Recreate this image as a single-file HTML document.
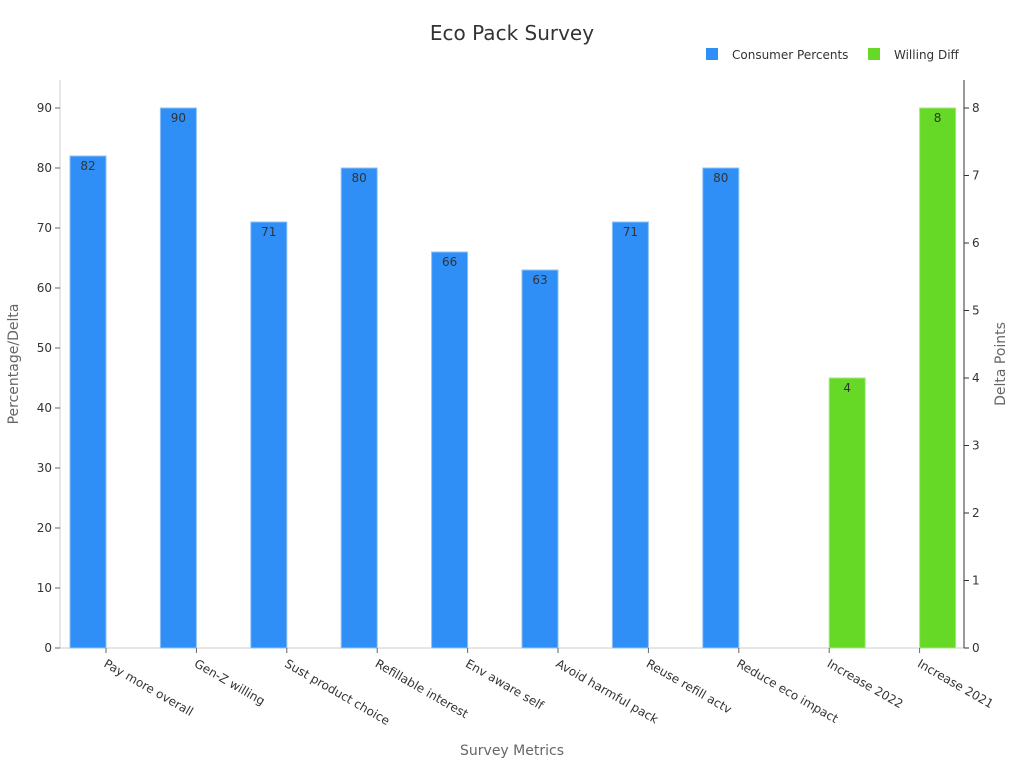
<!DOCTYPE html>
<html><head><meta charset="utf-8"><style>body{margin:0;background:#fff}svg{display:block;font-family:"DejaVu Sans","Liberation Sans",sans-serif}</style></head>
<body>
<svg width="1024" height="768" viewBox="0 0 1024 768">
<text x="512" y="40" text-anchor="middle" font-size="20" fill="#333">Eco Pack Survey</text>
<rect x="706" y="48" width="12" height="12" fill="#2f8ff7"/>
<text x="732" y="59" font-size="12" fill="#333">Consumer Percents</text>
<rect x="868" y="48" width="12" height="12" fill="#66d927"/>
<text x="894" y="59" font-size="12" fill="#333">Willing Diff</text>
<g font-size="12" fill="#333" text-anchor="end">
<line x1="60" y1="80" x2="60" y2="648" stroke="#ccc"/>
<line x1="60" y1="648" x2="964" y2="648" stroke="#ccc"/>
<g stroke="#666"><line x1="55" y1="648" x2="60" y2="648"/><line x1="55" y1="588" x2="60" y2="588"/><line x1="55" y1="528" x2="60" y2="528"/><line x1="55" y1="468" x2="60" y2="468"/><line x1="55" y1="408" x2="60" y2="408"/><line x1="55" y1="348" x2="60" y2="348"/><line x1="55" y1="288" x2="60" y2="288"/><line x1="55" y1="228" x2="60" y2="228"/><line x1="55" y1="168" x2="60" y2="168"/><line x1="55" y1="108" x2="60" y2="108"/></g>
<text x="52" y="652">0</text><text x="52" y="592">10</text><text x="52" y="532">20</text><text x="52" y="472">30</text><text x="52" y="412">40</text><text x="52" y="352">50</text><text x="52" y="292">60</text><text x="52" y="232">70</text><text x="52" y="172">80</text><text x="52" y="112">90</text>
</g>
<g font-size="12" fill="#333">
<line x1="964" y1="80" x2="964" y2="648" stroke="#333"/>
<g stroke="#333"><line x1="964" y1="648" x2="969" y2="648"/><line x1="964" y1="580.5" x2="969" y2="580.5"/><line x1="964" y1="513" x2="969" y2="513"/><line x1="964" y1="445.5" x2="969" y2="445.5"/><line x1="964" y1="378" x2="969" y2="378"/><line x1="964" y1="310.5" x2="969" y2="310.5"/><line x1="964" y1="243" x2="969" y2="243"/><line x1="964" y1="175.5" x2="969" y2="175.5"/><line x1="964" y1="108" x2="969" y2="108"/></g>
<text x="972" y="652">0</text><text x="972" y="584.5">1</text><text x="972" y="517">2</text><text x="972" y="449.5">3</text><text x="972" y="382">4</text><text x="972" y="314.5">5</text><text x="972" y="247">6</text><text x="972" y="179.5">7</text><text x="972" y="112">8</text>
</g>
<text transform="translate(18,364) rotate(-90)" text-anchor="middle" font-size="14" fill="#666">Percentage/Delta</text>
<text transform="translate(1005,364) rotate(-90)" text-anchor="middle" font-size="14" fill="#666">Delta Points</text>
<text x="512" y="755" text-anchor="middle" font-size="14" fill="#666">Survey Metrics</text>
<g fill="#2f8ff7" stroke="#8cc0f5" stroke-width="1">
<rect x="70" y="156" width="36" height="492"/>
<rect x="160.4" y="108" width="36" height="540"/>
<rect x="250.8" y="222" width="36" height="426"/>
<rect x="341.2" y="168" width="36" height="480"/>
<rect x="431.6" y="252" width="36" height="396"/>
<rect x="522" y="270" width="36" height="378"/>
<rect x="612.4" y="222" width="36" height="426"/>
<rect x="702.8" y="168" width="36" height="480"/>
</g>
<g fill="#66d927" stroke="#a5e684" stroke-width="1">
<rect x="829.2" y="378" width="36" height="270"/>
<rect x="919.6" y="108" width="36" height="540"/>
</g>
<g font-size="12" fill="#333" text-anchor="middle">
<text x="88" y="170">82</text><text x="178.4" y="122">90</text><text x="268.8" y="236">71</text><text x="359.2" y="182">80</text><text x="449.6" y="266">66</text><text x="540" y="284">63</text><text x="630.4" y="236">71</text><text x="720.8" y="182">80</text><text x="847.2" y="392">4</text><text x="937.6" y="122">8</text>
</g>
<g stroke="#666">
<line x1="106" y1="648" x2="106" y2="653"/><line x1="196.4" y1="648" x2="196.4" y2="653"/><line x1="286.8" y1="648" x2="286.8" y2="653"/><line x1="377.2" y1="648" x2="377.2" y2="653"/><line x1="467.6" y1="648" x2="467.6" y2="653"/><line x1="558" y1="648" x2="558" y2="653"/><line x1="648.4" y1="648" x2="648.4" y2="653"/><line x1="738.8" y1="648" x2="738.8" y2="653"/><line x1="829.2" y1="648" x2="829.2" y2="653"/><line x1="919.6" y1="648" x2="919.6" y2="653"/>
</g>
<g font-size="12" fill="#333">
<text transform="translate(103,666) rotate(30)">Pay more overall</text>
<text transform="translate(193.4,666) rotate(30)">Gen-Z willing</text>
<text transform="translate(283.8,666) rotate(30)">Sust product choice</text>
<text transform="translate(374.2,666) rotate(30)">Refillable interest</text>
<text transform="translate(464.6,666) rotate(30)">Env aware self</text>
<text transform="translate(555,666) rotate(30)">Avoid harmful pack</text>
<text transform="translate(645.4,666) rotate(30)">Reuse refill actv</text>
<text transform="translate(735.8,666) rotate(30)">Reduce eco impact</text>
<text transform="translate(826.2,666) rotate(30)">Increase 2022</text>
<text transform="translate(916.6,666) rotate(30)">Increase 2021</text>
</g>
</svg>
</body></html>
